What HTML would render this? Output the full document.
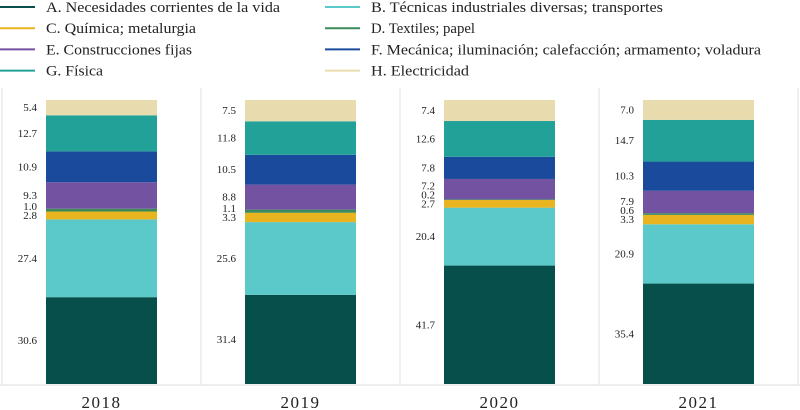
<!DOCTYPE html>
<html><head><meta charset="utf-8"><style>
body{margin:0;background:#fff;width:800px;height:410px;overflow:hidden;font-family:"Liberation Serif","DejaVu Serif","Times New Roman",serif}
svg{display:block}
svg text{font-family:"Liberation Serif","DejaVu Serif","Times New Roman",serif}
</style></head><body>
<svg id="chart" width="800" height="410"></svg>
<script>
const years=["2018","2019","2020","2021"];
const seriesNames=["A. Necesidades corrientes de la vida","B. Técnicas industriales diversas; transportes","C. Química; metalurgia","D. Textiles; papel","E. Construcciones fijas","F. Mecánica; iluminación; calefacción; armamento; voladura","G. Física","H. Electricidad"];
const sA=[30.6,31.4,41.7,35.4];
const sB=[27.4,25.6,20.4,20.9];
const sC=[2.8,3.3,2.7,3.3];
const sD=[1.0,1.1,0.2,0.6];
const sE=[9.3,8.8,7.2,7.9];
const sF=[10.9,10.5,7.8,10.3];
const sG=[12.7,11.8,12.6,14.7];
const sH=[5.4,7.5,7.4,7.0];
const series=[sA,sB,sC,sD,sE,sF,sG,sH];
const colors=["#064f4a","#5bc8c9","#e8b420","#3a8a5a","#7452a2","#1a4a9c","#22a199","#e8dcae"];
const legendWidths=[234,292,150,104,146,390,57,98];
const NS="http://www.w3.org/2000/svg";
const FF='"Liberation Serif","DejaVu Serif","Times New Roman",serif';
const svg=document.getElementById('chart');
function mk(t,a){const e=document.createElementNS(NS,t);for(const k in a)e.setAttribute(k,a[k]);svg.appendChild(e);return e;}
seriesNames.forEach((n,i)=>{
 const col=i%2,row=Math.floor(i/2);
 const x0=col?325:0,y=7+row*21.2;
 const l=mk('line',{x1:x0,x2:x0+35,y1:y,y2:y,stroke:colors[i],'stroke-width':2});
 
 
 const t=mk('text',{x:x0+46,y:y+5,'font-size':14.5,fill:'#222',textLength:legendWidths[i],lengthAdjust:'spacingAndGlyphs'});
 t.style.fontFamily=FF;
 t.textContent=n;
 
 
});
const plotTop=100,plotBottom=384,panelW=199,panelX0=2,barW=111,barOff=44;
const yScale=(v,sum)=>(plotBottom-plotTop)*v/sum;
const ax=mk('line',{x1:0,x2:800,y1:385,y2:385,stroke:'#ddd','stroke-width':1});


for(let p=0;p<=4;p++){
 const s=mk('line',{x1:panelX0+p*panelW,x2:panelX0+p*panelW,y1:88,y2:385,stroke:'#e2e2e2','stroke-width':1});
 
 
}
years.forEach((yr,j)=>{
 const sum=series.reduce((a,s)=>a+s[j],0);
 const bx=panelX0+j*panelW+barOff;
 let y=plotBottom;const centers=[];
 series.forEach((s,i)=>{
  const h=yScale(s[j],sum);
  const r=mk('rect',{x:bx,y:y-h,width:barW,height:h,fill:colors[i]});
  
  
  centers.push(y-h/2);y-=h;
 });
 for(let i=1;i<centers.length;i++){if(centers[i-1]-centers[i]<9)centers[i]=centers[i-1]-9;}
 series.forEach((s,i)=>{
  const t=mk('text',{x:bx-9,y:centers[i]+3.5,'font-size':11,'text-anchor':'end',fill:'#222'});
  t.style.fontFamily=FF;
  t.textContent=s[j].toFixed(1);
  
  
 });
 const yl=mk('text',{x:bx+barW/2,y:408,'font-size':17,'text-anchor':'middle',fill:'#222','letter-spacing':'1.5'});
 yl.style.fontFamily=FF;
 yl.textContent=yr;
 
 
});
</script>
</body></html>
